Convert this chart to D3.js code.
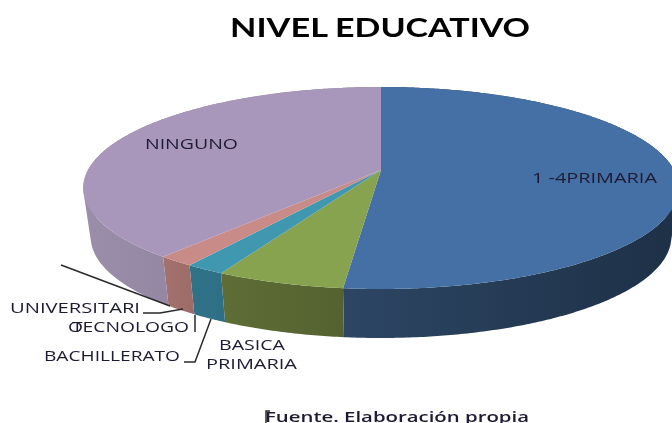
<!DOCTYPE html>
<html>
<head>
<meta charset="utf-8">
<script src="https://d3js.org/d3.v7.min.js"></script>
<style>
html, body { margin: 0; padding: 0; background: #fff; overflow: hidden; }
svg { display: block; }
text { font-family: "Open Sans", sans-serif; fill: #1f1a33; }
</style>
</head>
<body>
<svg id="chart" width="672" height="423"></svg>
<script>
// values in percent
const categories = ["1 -4PRIMARIA", "BASICA PRIMARIA", "BACHILLERATO", "TECNOLOGO", "UNIVERSITARIO", "NINGUNO"];
const values = [51.7, 5.9, 1.8, 1.7, 0, 38.9];
const topColors = ["#4470a5", "#87a34f", "#4097b0", "#c98b88", "#c0c0c0", "#a897ba"];
const wallFrom = ["#2d4664", "#5f6e36", "#2f7389", "#a3716e", "#888888", "#9a8eab"];
const wallTo = ["#1d3046", "#536230", "#2f6f85", "#9d6b68", "#888888", "#83778f"];

const svg = d3.select("#chart");
const defs = svg.append("defs");

const blur = defs.append("filter").attr("id", "soft");
blur.append("feGaussianBlur").attr("stdDeviation", 0.35);

// tilted disc, the near side comes out bigger than the far side
const cx = 381, cy = 170, rx = 293, ry = 97.8, k = 0.178, depth = 49, lowScale = 0.975;
function rim(a, r) {
  const px = r * Math.sin(a), py = -r * Math.cos(a);
  const w = 1 - k * py;
  return [cx + rx * px / w, cy + ry * py / w];
}

const pie = d3.pie().sort(null).value(d => d)(values);
const line = d3.line();

function arcPoints(d) {
  const n = Math.max(2, Math.ceil((d.endAngle - d.startAngle) / 0.01));
  return d3.range(n + 1).map(i => rim(d.startAngle + (d.endAngle - d.startAngle) * i / n, 1));
}

values.forEach((v, i) => {
  const g = defs.append("linearGradient").attr("id", "wall" + i);
  g.append("stop").attr("offset", "0%").attr("stop-color", wallFrom[i]);
  g.append("stop").attr("offset", "100%").attr("stop-color", wallTo[i]);
});

const shown = pie.map((d, i) => ({ d, i })).filter(s => s.d.value > 0);

// wall is built from small quads so the outline stays straight where it turns away.
// lower edge sits a little inside the top rim
function wallPath(d) {
  const pts = arcPoints(d);
  const low = p => [cx + (p[0] - cx) * lowScale, p[1] + depth];
  let out = "";
  for (let i = 0; i < pts.length - 1; i++) {
    const q = [pts[i], pts[i + 1], low(pts[i + 1]), low(pts[i])];
    if (d3.polygonArea(q) < 0) q.reverse();
    out += line(q) + "Z";
  }
  return out;
}

svg.append("g").selectAll("path").data(shown).join("path")
  .attr("d", s => wallPath(s.d))
  .attr("fill", s => "url(#wall" + s.i + ")");

svg.append("g").selectAll("path").data(shown).join("path")
  .attr("d", s => line([[cx, cy]].concat(arcPoints(s.d))) + "Z")
  .attr("fill", s => topColors[s.i]);

// leader lines, last one is the stray cursor mark in front of Fuente
const leaders = [
  [[61, 265], [170, 306]],
  [[143, 313], [160, 313], [183, 309]],
  [[195, 315], [195, 332]],
  [[184, 362], [195, 362], [211, 319]],
  [[270, 411], [266, 411], [266, 423]]
];
svg.append("g").selectAll("path").data(leaders).join("path")
  .attr("d", d => line(d))
  .attr("fill", "none")
  .attr("stroke", "#2a2a2a")
  .attr("stroke-width", 1.5);

const labels = [
  { t: "NIVEL", x: 230, y: 37, w: 98, s: 27, b: 700, f: "Lato", c: "#000" },
  { t: "EDUCATIVO", x: 335, y: 37, w: 195, s: 27, b: 700, f: "Lato", c: "#000" },
  { t: categories[0], x: 532, y: 183, w: 125, s: 14 },
  { t: categories[5], x: 145, y: 149, w: 93, s: 14 },
  { t: "UNIVERSITARI", x: 10, y: 313, w: 130, s: 14 },
  { t: "O", rest: categories[3], x: 68, y: 332, w: 121, s: 14 },
  { t: categories[2], x: 44, y: 361, w: 136, s: 14 },
  { t: "BASICA", x: 219, y: 350, w: 66, s: 14 },
  { t: "PRIMARIA", x: 206, y: 369, w: 91, s: 14 },
  { t: "Fuente. Elaboración propia", x: 265, y: 422, w: 264, s: 14.5, b: 600 }
];
svg.append("g").attr("filter", "url(#soft)").selectAll("text").data(labels).join("text")
  .attr("x", d => d.x)
  .attr("y", d => d.y)
  .attr("font-size", d => d.s)
  .attr("font-weight", d => d.b || 400)
  .style("font-family", d => d.f || null)
  .style("fill", d => d.c || null)
  .attr("textLength", d => d.w)
  .attr("lengthAdjust", "spacingAndGlyphs")
  .each(function(d) {
    const t = d3.select(this).text(d.t);
    // wrapped O of UNIVERSITARIO lands on top of the T
    if (d.rest) t.append("tspan").attr("dx", -8).text(d.rest);
  });
</script>
</body>
</html>
